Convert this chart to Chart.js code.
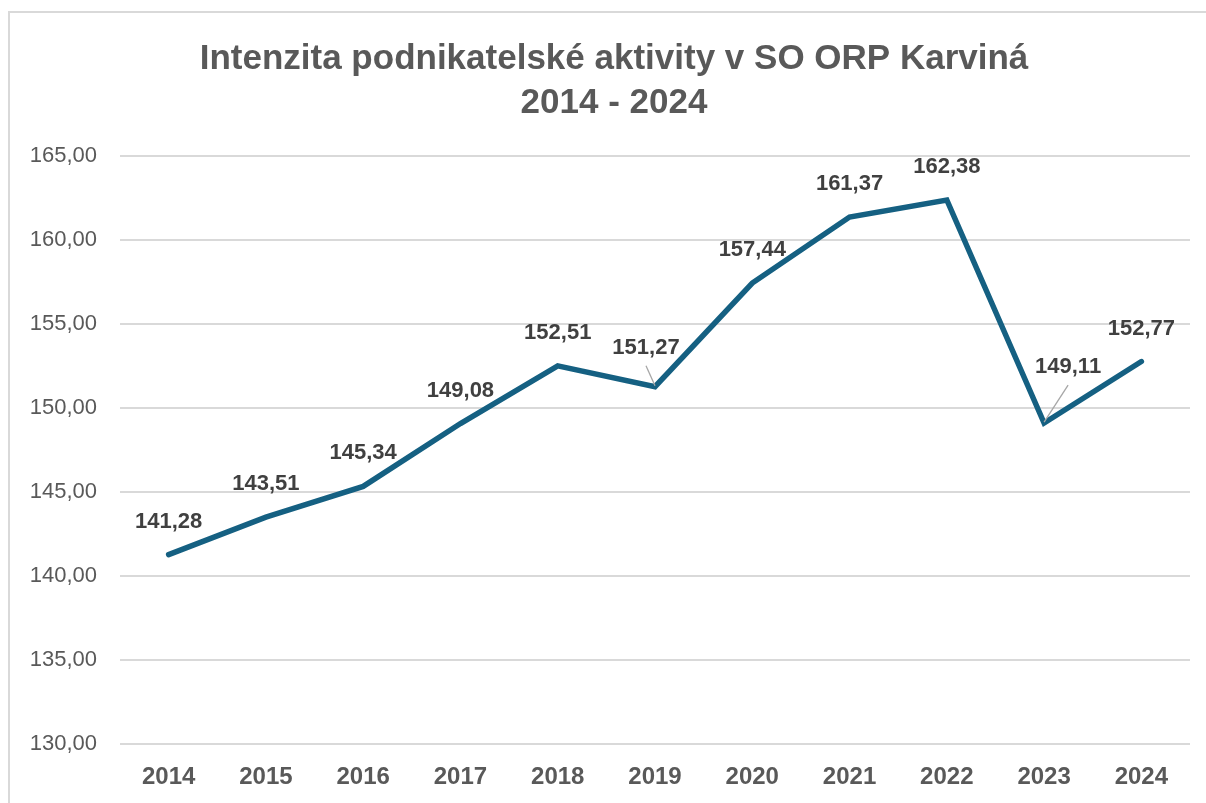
<!DOCTYPE html>
<html>
<head>
<meta charset="utf-8">
<script src="https://cdn.jsdelivr.net/npm/chart.js@4.4.1/dist/chart.umd.min.js"></script>
<style>
  html, body { margin: 0; padding: 0; background: #ffffff; }
  #wrap { position: relative; width: 1206px; height: 803px; overflow: hidden; }
  #frame { position: absolute; left: 8px; top: 11px; width: 1210px; height: 820px;
           border: 2px solid #d9d9d9; box-sizing: border-box; }
  canvas { position: absolute; left: 0; top: 0; }
</style>
</head>
<body>
<div id="wrap">
  <div id="frame"></div>
  <canvas id="c" width="1206" height="811"></canvas>
</div>
<script>
const categories = ['2014','2015','2016','2017','2018','2019','2020','2021','2022','2023','2024'];
const values = [141.28, 143.51, 145.34, 149.08, 152.51, 151.27, 157.44, 161.37, 162.38, 149.11, 152.77];
const titleLines = ['Intenzita podnikatelské aktivity v SO ORP Karviná', '2014 - 2024'];
const yMin = 130, yMax = 165, yStep = 5;

const fmt = v => v.toFixed(2).replace('.', ',');

// label placement relative to point (plugin configuration, not data)
const labelOffsets = { default: { dx: 0, dy: -33 }, 5: { dx: -9, dy: -39, leader: true }, 9: { dx: 24, dy: -56, leader: true } };

const dataLabelPlugin = {
  id: 'dataLabels',
  afterLayout(chart) {
    // shift the title box so it is centred like the reference
    if (chart.titleBlock) chart.titleBlock.left += 38;
  },
  afterDatasetsDraw(chart) {
    const ctx = chart.ctx;
    const meta = chart.getDatasetMeta(0);
    ctx.save();
    ctx.font = 'bold 22px "Liberation Sans", Arial, sans-serif';
    ctx.fillStyle = '#404040';
    ctx.textAlign = 'center';
    ctx.textBaseline = 'middle';
    meta.data.forEach((pt, i) => {
      const o = labelOffsets[i] || labelOffsets.default;
      const lx = pt.x + o.dx, ly = pt.y + o.dy;
      if (o.leader) {
        ctx.strokeStyle = '#a6a6a6';
        ctx.lineWidth = 1.3;
        ctx.beginPath();
        ctx.moveTo(lx, ly + 18);
        ctx.lineTo(pt.x, pt.y - 1);
        ctx.stroke();
      }
      ctx.fillText(fmt(values[i]), lx, ly);
    });
    ctx.restore();
  }
};

new Chart(document.getElementById('c'), {
  type: 'line',
  data: {
    labels: categories,
    datasets: [{
      data: values,
      borderColor: '#156082',
      borderWidth: 5.5,
      pointRadius: 0,
      pointHoverRadius: 0,
      tension: 0,
      fill: false,
      borderCapStyle: 'round',
      borderJoinStyle: 'miter'
    }]
  },
  options: {
    responsive: false,
    animation: false,
    events: [],
    layout: { padding: { left: 0, right: 16, top: 0, bottom: 0 } },
    plugins: {
      legend: { display: false },
      tooltip: { enabled: false },
      title: {
        display: true,
        text: titleLines,
        color: '#595959',
        font: { family: '"Liberation Sans", Arial, sans-serif', size: 35, weight: 'bold', lineHeight: 1.257 },
        padding: { top: 37, bottom: 31 }
      }
    },
    scales: {
      x: {
        offset: true,
        grid: { display: false, drawTicks: false },
        border: { display: false },
        ticks: {
          color: '#595959',
          font: { family: '"Liberation Sans", Arial, sans-serif', size: 24, weight: 'bold' },
          padding: 19,
          maxRotation: 0
        }
      },
      y: {
        min: yMin,
        max: yMax,
        afterFit(scale) { scale.width = 120; },
        grid: { color: '#d9d9d9', lineWidth: 2, drawTicks: false },
        border: { display: false },
        ticks: {
          stepSize: yStep,
          color: '#595959',
          font: { family: '"Liberation Sans", Arial, sans-serif', size: 22 },
          padding: 23,
          callback: v => fmt(v)
        }
      }
    }
  },
  plugins: [dataLabelPlugin]
});
</script>
</body>
</html>
